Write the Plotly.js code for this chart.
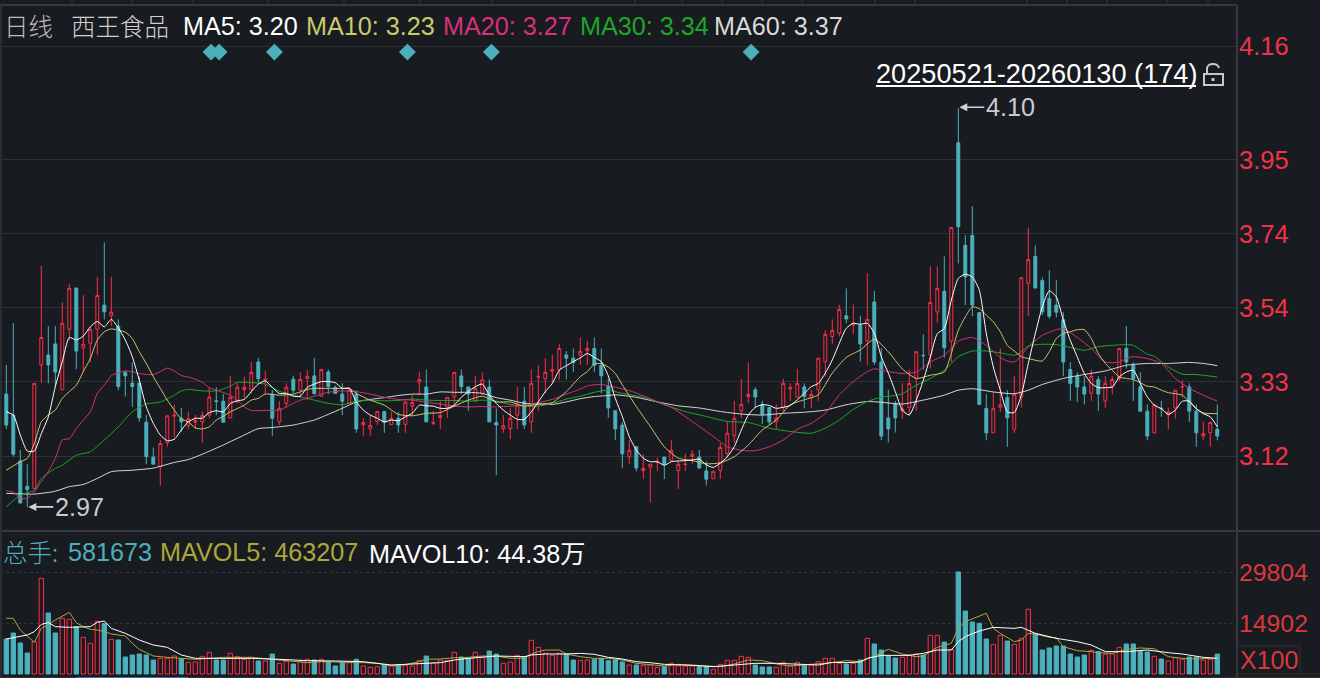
<!DOCTYPE html>
<html>
<head>
<meta charset="utf-8">
<script src="https://cdn.plot.ly/plotly-3.0.1.min.js"></script>
<style>html,body{margin:0;padding:0;background:#181b20;overflow:hidden}#c{width:1320px;height:678px}</style>
</head>
<body>
<div id="c"></div>
<script>
// ---- candles
const opens=[3.294,3.235,3.106,3.035,3.029,3.376,3.404,3.435,3.306,3.476,3.592,3.424,3.437,3.476,3.544,3.514,3.485,3.355,3.325,3.325,3.215,3.117,3.09,3.158,3.232,3.226,3.206,3.215,3.216,3.235,3.275,3.274,3.227,3.274,3.307,3.307,3.384,3.333,3.294,3.216,3.268,3.336,3.305,3.338,
3.345,3.288,3.356,3.313,3.294,3.268,3.294,3.208,3.197,3.217,3.245,3.208,3.226,3.209,3.26,3.327,3.314,3.212,3.228,3.257,3.286,3.345,3.314,3.274,3.294,3.314,3.214,3.197,3.197,3.235,3.274,3.216,3.342,3.337,3.358,3.363,3.404,3.395,3.404,3.416,3.422,3.375,
3.315,3.247,3.207,3.118,3.146,3.079,3.088,3.101,3.117,3.108,3.079,3.096,3.118,3.117,3.078,3.056,3.079,3.127,3.177,3.247,3.287,3.306,3.265,3.256,3.216,3.256,3.308,3.285,3.314,3.285,3.306,3.385,3.456,3.465,3.514,3.488,3.487,3.444,3.553,3.384,3.227,3.268,
3.247,3.256,3.338,3.403,3.404,3.525,3.583,3.443,4.0,3.712,3.74,3.523,3.254,3.185,3.257,3.284,3.195,3.286,3.605,3.681,3.613,3.562,3.544,3.503,3.363,3.344,3.314,3.296,3.335,3.275,3.314,3.338,3.422,3.375,3.314,3.246,3.185,3.254,3.236,3.255,3.314,3.314,3.246,3.176,3.185,3.195];
const closes=[3.207,3.125,2.988,3.026,3.324,3.453,3.376,3.356,3.493,3.591,3.415,3.434,3.475,3.571,3.525,3.524,3.315,3.345,3.315,3.227,3.118,3.097,3.155,3.233,3.235,3.216,3.225,3.22,3.234,3.285,3.273,3.215,3.285,3.313,3.313,3.355,3.337,3.336,3.226,3.254,3.313,3.305,3.335,3.344,
3.295,3.363,3.315,3.296,3.274,3.305,3.196,3.214,3.206,3.245,3.214,3.225,3.207,3.272,3.27,3.335,3.216,3.214,3.234,3.285,3.355,3.315,3.294,3.31,3.334,3.216,3.207,3.205,3.226,3.263,3.207,3.324,3.343,3.355,3.363,3.422,3.395,3.383,3.414,3.422,3.375,3.345,
3.255,3.196,3.126,3.136,3.086,3.085,3.097,3.104,3.097,3.136,3.097,3.097,3.125,3.086,3.055,3.077,3.144,3.184,3.226,3.265,3.293,3.286,3.237,3.216,3.226,3.324,3.313,3.324,3.287,3.293,3.395,3.462,3.473,3.532,3.505,3.493,3.435,3.504,3.384,3.176,3.196,3.227,
3.253,3.324,3.413,3.402,3.551,3.591,3.424,3.762,3.764,3.623,3.544,3.265,3.185,3.253,3.264,3.227,3.294,3.621,3.672,3.592,3.525,3.513,3.524,3.384,3.324,3.314,3.294,3.344,3.294,3.324,3.335,3.422,3.384,3.338,3.246,3.176,3.264,3.253,3.244,3.305,3.315,3.246,3.185,3.183,3.214,3.176];
const highs=[3.376,3.493,3.137,3.097,3.324,3.654,3.485,3.485,3.552,3.603,3.592,3.572,3.483,3.624,3.72,3.624,3.504,3.36,3.383,3.343,3.235,3.144,3.165,3.233,3.264,3.255,3.245,3.235,3.245,3.312,3.313,3.294,3.345,3.324,3.343,3.385,3.396,3.36,3.305,3.274,3.324,3.346,3.355,3.361,
3.396,3.365,3.363,3.318,3.324,3.315,3.305,3.226,3.235,3.245,3.245,3.245,3.244,3.274,3.291,3.357,3.363,3.246,3.274,3.285,3.355,3.363,3.314,3.345,3.355,3.335,3.254,3.235,3.254,3.314,3.314,3.363,3.375,3.395,3.404,3.435,3.415,3.422,3.453,3.444,3.453,3.422,
3.336,3.247,3.216,3.165,3.146,3.125,3.097,3.115,3.117,3.165,3.107,3.127,3.137,3.137,3.105,3.077,3.156,3.216,3.275,3.337,3.383,3.313,3.275,3.256,3.265,3.337,3.324,3.365,3.324,3.306,3.395,3.474,3.504,3.545,3.591,3.545,3.514,3.634,3.584,3.423,3.306,3.275,
3.324,3.363,3.413,3.462,3.653,3.653,3.681,3.762,4.097,3.74,3.822,3.523,3.294,3.3,3.422,3.305,3.344,3.621,3.762,3.712,3.622,3.642,3.614,3.524,3.384,3.355,3.344,3.363,3.344,3.344,3.344,3.422,3.485,3.384,3.356,3.265,3.264,3.275,3.256,3.305,3.333,3.324,3.265,3.216,3.214,3.265];
const lows=[3.196,3.118,2.987,2.977,3.029,3.326,3.324,3.313,3.306,3.446,3.364,3.357,3.383,3.404,3.504,3.485,3.305,3.287,3.258,3.216,3.097,3.097,3.036,3.146,3.174,3.188,3.196,3.196,3.157,3.226,3.235,3.215,3.227,3.268,3.284,3.296,3.324,3.294,3.176,3.207,3.256,3.296,3.286,3.277,
3.294,3.287,3.294,3.294,3.235,3.266,3.185,3.177,3.177,3.207,3.185,3.208,3.185,3.185,3.235,3.291,3.216,3.207,3.196,3.227,3.26,3.294,3.247,3.274,3.294,3.216,3.066,3.185,3.167,3.196,3.196,3.185,3.246,3.296,3.324,3.335,3.335,3.357,3.376,3.376,3.355,3.296,
3.227,3.165,3.086,3.098,3.077,3.055,2.989,3.078,3.055,3.108,3.027,3.078,3.098,3.086,3.037,3.056,3.055,3.116,3.156,3.227,3.268,3.254,3.21,3.207,3.196,3.247,3.275,3.285,3.254,3.254,3.275,3.343,3.435,3.456,3.493,3.463,3.385,3.376,3.376,3.165,3.158,3.186,
3.225,3.235,3.247,3.363,3.366,3.494,3.396,3.384,3.661,3.544,3.513,3.265,3.164,3.185,3.244,3.146,3.185,3.256,3.513,3.592,3.516,3.506,3.51,3.344,3.275,3.272,3.265,3.275,3.247,3.256,3.294,3.331,3.366,3.275,3.246,3.164,3.185,3.23,3.195,3.225,3.284,3.216,3.146,3.164,3.146,3.164];
// ---- moving averages, [candle index, price]
const ma5=[3.244,3.235,3.179,3.134,3.134,3.183,3.23,3.315,3.385,3.453,3.446,3.457,3.483,3.498,3.483,3.504,3.48,3.446,3.399,3.333,3.258,3.212,3.179,3.163,3.167,3.193,3.216,3.226,3.226,3.242,3.247,3.244,3.268,3.275,3.279,3.301,3.322,3.331,3.313,3.296,3.296,3.288,3.288,3.313,
3.322,3.329,3.329,3.326,3.31,3.31,3.272,3.249,3.235,3.226,3.216,3.221,3.219,3.23,3.24,3.263,3.261,3.26,3.254,3.254,3.263,3.285,3.301,3.315,3.322,3.291,3.268,3.249,3.235,3.223,3.223,3.244,3.272,3.301,3.324,3.361,3.374,3.385,3.396,3.408,3.397,3.385,
3.345,3.282,3.231,3.174,3.137,3.114,3.104,3.104,3.094,3.104,3.106,3.107,3.109,3.111,3.095,3.088,3.1,3.118,3.146,3.193,3.235,3.257,3.264,3.262,3.254,3.257,3.262,3.278,3.296,3.315,3.324,3.353,3.39,3.437,3.479,3.493,3.49,3.493,3.465,3.399,3.353,3.301,
3.249,3.235,3.277,3.333,3.398,3.464,3.478,3.558,3.619,3.631,3.623,3.586,3.464,3.37,3.305,3.244,3.242,3.291,3.38,3.464,3.539,3.584,3.567,3.502,3.445,3.398,3.352,3.324,3.312,3.312,3.314,3.342,3.356,3.361,3.324,3.286,3.263,3.253,3.237,3.249,3.274,3.274,3.253,3.239,3.23,3.202];
const ma10=[[0,3.08],[2,3.104],[3,3.113],[4,3.155],[5,3.216],[6,3.235],[7,3.249],[8,3.282],[9,3.301],[10,3.319],[11,3.357],[12,3.394],[13,3.446],[14,3.469],[15,3.477],[17,3.468],[18,3.45],[19,3.413],[20,3.38],[21,3.343],[22,3.31],[23,3.277],[24,3.249],[25,3.224],[26,3.216],[27,3.199],[28,3.196],[29,3.202],[30,3.221],[31,3.232],[32,3.244],[34,3.263],[35,3.277],[36,3.282],[37,3.294],[39,3.291],[41,3.294],[43,3.307],[44,3.31],[46,3.31],[48,3.31],[49,3.31],[50,3.296],[52,3.277],[54,3.263],[56,3.237],[58,3.233],[60,3.24],[62,3.242],[64,3.26],[66,3.277],[68,3.288],[70,3.272],[72,3.272],[74,3.26],[76,3.266],[78,3.27],[80,3.301],[82,3.343],[83,3.357],[84,3.378],[85,3.38],[86,3.37],[87,3.352],[88,3.32],[90,3.259],[92,3.203],[94,3.146],[96,3.114],[98,3.107],[100,3.098],[102,3.101],[104,3.118],[106,3.151],[108,3.193],[110,3.221],[112,3.264],[114,3.278],[116,3.292],[118,3.353],[120,3.397],[122,3.418],[124,3.448],[126,3.413],[128,3.365],[130,3.338],[132,3.347],[134,3.356],[135,3.408],[136,3.473],[137,3.511],[138,3.539],[139,3.534],[140,3.516],[141,3.497],[142,3.469],[143,3.431],[144,3.415],[145,3.399],[146,3.394],[148,3.387],[149,3.413],[150,3.45],[151,3.464],[152,3.469],[153,3.475],[154,3.475],[155,3.45],[156,3.408],[157,3.38],[158,3.361],[159,3.342],[160,3.338],[161,3.335],[162,3.326],[163,3.316],[164,3.314],[165,3.305],[166,3.298],[167,3.295],[168,3.291],[169,3.272],[170,3.253],[171,3.241],[173,3.239]];
const ma20=[[0,3.022],[1,3.018],[2,3.001],[3,3.001],[4,3.019],[5,3.048],[6,3.076],[7,3.113],[8,3.165],[9,3.169],[10,3.197],[11,3.221],[12,3.244],[13,3.296],[14,3.319],[15,3.346],[16,3.354],[17,3.359],[18,3.357],[19,3.352],[20,3.349],[21,3.349],[22,3.357],[23,3.367],[24,3.359],[25,3.346],[26,3.342],[27,3.336],[28,3.327],[29,3.312],[30,3.305],[32,3.291],[33,3.277],[34,3.258],[35,3.248],[37,3.248],[39,3.249],[40,3.258],[41,3.268],[42,3.277],[43,3.282],[44,3.288],[46,3.299],[48,3.303],[50,3.301],[52,3.294],[54,3.285],[56,3.279],[58,3.277],[60,3.271],[62,3.266],[64,3.26],[66,3.258],[68,3.259],[70,3.258],[72,3.26],[74,3.263],[76,3.27],[78,3.279],[80,3.294],[82,3.308],[83,3.317],[85,3.321],[87,3.313],[89,3.304],[91,3.289],[93,3.273],[95,3.257],[97,3.231],[99,3.203],[101,3.175],[103,3.146],[105,3.136],[107,3.135],[109,3.146],[111,3.165],[113,3.195],[115,3.212],[117,3.24],[119,3.292],[121,3.329],[123,3.357],[124,3.365],[126,3.357],[128,3.352],[130,3.356],[132,3.384],[133,3.394],[134,3.403],[135,3.422],[136,3.443],[138,3.453],[140,3.431],[142,3.397],[143,3.387],[144,3.384],[145,3.403],[146,3.427],[148,3.459],[150,3.475],[151,3.478],[153,3.453],[155,3.422],[157,3.384],[159,3.384],[160,3.394],[161,3.399],[163,3.394],[165,3.38],[167,3.338],[169,3.31],[171,3.291],[173,3.274]];
const ma30=[[0,2.977],[2,3.01],[4,3.024],[5,3.057],[7,3.085],[8,3.094],[10,3.122],[12,3.132],[14,3.165],[16,3.202],[18,3.244],[20,3.266],[22,3.272],[24,3.291],[25,3.303],[26,3.307],[28,3.303],[30,3.303],[32,3.316],[33,3.327],[35,3.326],[37,3.322],[39,3.302],[41,3.291],[43,3.282],[44,3.277],[46,3.268],[48,3.264],[50,3.274],[52,3.277],[54,3.275],[56,3.276],[58,3.28],[60,3.277],[62,3.276],[64,3.276],[66,3.274],[68,3.277],[70,3.274],[72,3.265],[74,3.26],[76,3.26],[78,3.268],[80,3.28],[82,3.288],[84,3.299],[86,3.305],[88,3.296],[91,3.285],[94,3.264],[97,3.245],[100,3.231],[103,3.217],[106,3.214],[109,3.198],[112,3.189],[115,3.184],[117,3.198],[119,3.221],[121,3.251],[123,3.273],[125,3.285],[127,3.29],[128,3.295],[130,3.319],[132,3.338],[134,3.361],[135,3.38],[136,3.399],[138,3.415],[140,3.415],[142,3.41],[144,3.403],[145,3.413],[146,3.429],[148,3.434],[150,3.433],[152,3.425],[154,3.417],[156,3.427],[158,3.431],[160,3.433],[161,3.431],[163,3.406],[164,3.4],[166,3.37],[168,3.35],[170,3.349],[173,3.342]];
const ma60=[[0,3.015],[4,3.013],[7,3.021],[9,3.034],[11,3.04],[13,3.057],[15,3.076],[18,3.08],[21,3.086],[24,3.102],[26,3.11],[28,3.125],[31,3.151],[34,3.179],[36,3.197],[38,3.2],[41,3.207],[43,3.216],[44,3.221],[46,3.237],[48,3.254],[50,3.272],[52,3.279],[54,3.284],[56,3.29],[58,3.294],[60,3.294],[62,3.3],[64,3.299],[66,3.299],[68,3.296],[70,3.284],[72,3.277],[74,3.268],[76,3.266],[78,3.265],[80,3.272],[82,3.281],[84,3.287],[86,3.29],[87,3.292],[90,3.285],[93,3.272],[96,3.261],[99,3.255],[102,3.245],[105,3.238],[108,3.235],[111,3.24],[114,3.243],[117,3.249],[120,3.264],[123,3.273],[125,3.271],[128,3.266],[131,3.277],[134,3.291],[136,3.305],[138,3.309],[141,3.3],[144,3.295],[146,3.305],[148,3.321],[151,3.338],[154,3.349],[157,3.359],[160,3.375],[163,3.38],[166,3.38],[169,3.383],[171,3.38],[173,3.374]];
// ---- volume (X100)
const volumes=[10230,11980,9060,6140,9450,27950,17820,11980,16270,15970,13830,10710,8960,15390,14710,10130,9930,4970,5550,5840,5550,4090,4580,4580,5260,4480,3410,3510,5160,6330,4090,4090,6040,5060,4290,4870,3800,3800,5840,3120,3700,2920,3700,4290,4090,4290,3510,2340,3310,3310,4290,2340,1950,2140,2730,2530,2730,2530,2340,3990,5260,3310,4090,3900,6330,4970,4580,6330,4870,6720,5840,3120,3510,5450,5060,9840,7790,6040,5450,6040,5840,4090,3990,4090,4290,4580,3900,4090,3510,2630,2630,2530,2630,1950,2140,3120,2430,2340,2340,2140,2140,1360,2820,3990,3990,5160,4870,2630,2050,2050,1950,3410,2340,3410,2630,2630,3600,4580,4580,3120,2920,3120,4090,10420,8770,7010,5260,4680,4870,5550,5840,5550,11300,11300,9350,7210,29800,18410,15190,14800,10230,8670,11300,9640,8670,10420,18900,11790,7010,7600,8180,8180,5840,4970,5550,6920,6530,5750,5840,7790,8770,8770,6530,6430,5160,4380,3800,4770,4290,4970,4970,4090,4290,5817];
const mavol5=[[0,16270],[1,16270],[2,12860],[3,10910],[4,9250],[5,13340],[6,14320],[7,15780],[8,16950],[9,18020],[10,15000],[11,13830],[12,13050],[13,12860],[14,12370],[15,11690],[16,11400],[17,11100],[18,8960],[19,7210],[20,6230],[21,5260],[23,4870],[25,4580],[27,4290],[29,4580],[31,4870],[33,4870],[35,4870],[37,4480],[39,4090],[41,3600],[43,3310],[45,3600],[47,3410],[49,3410],[51,3310],[53,3120],[55,2340],[57,2730],[59,3600],[60,4290],[62,4380],[64,4770],[66,4870],[68,5260],[70,5260],[72,4580],[74,4580],[75,5840],[76,6530],[77,7010],[79,7010],[80,5840],[82,5060],[84,4580],[86,4580],[88,4090],[90,3120],[92,2820],[94,2340],[96,2820],[98,2530],[100,2340],[102,2140],[104,2920],[106,4090],[108,3900],[110,2920],[112,2340],[114,2630],[116,2820],[118,3310],[120,3900],[122,3600],[124,5260],[126,7210],[128,5840],[130,5060],[131,5260],[133,7790],[135,8960],[136,13340],[137,15290],[139,16950],[140,17730],[141,13340],[142,11880],[144,9450],[145,9930],[146,11880],[147,11690],[149,10710],[150,10620],[151,7990],[153,6820],[155,6530],[156,6230],[158,6040],[160,7210],[162,7600],[164,7400],[165,6230],[166,5060],[168,4580],[170,4380],[172,4580],[173,4632]];
const mavol10=[[0,10230],[2,11100],[3,11400],[4,12370],[5,14510],[6,15000],[7,13830],[9,13640],[12,13830],[13,15100],[14,15490],[15,13340],[17,11880],[19,9930],[21,8470],[23,7790],[25,5550],[27,4580],[31,4580],[35,4580],[39,4290],[43,3900],[47,3800],[51,3600],[55,2630],[59,2920],[60,3120],[62,3310],[64,4090],[66,4580],[70,5260],[74,5060],[75,5550],[77,5840],[80,5840],[82,6040],[84,5750],[86,4870],[88,4380],[90,3600],[92,3310],[94,2820],[98,2530],[101,2140],[104,2630],[107,3120],[110,3120],[113,2920],[116,2630],[118,3410],[120,3310],[122,3510],[123,4580],[125,5450],[129,5450],[131,6040],[133,7010],[135,7010],[136,9450],[137,10910],[139,12560],[141,13640],[144,13340],[145,13640],[147,11880],[150,10420],[153,9450],[155,8470],[157,6530],[160,6530],[163,7010],[166,6230],[168,5840],[171,4870],[173,4580]];
// ---- markers and axis labels
const signalIdx=[29.25,30.4,38.3,57.3,69.3,106.4];
const priceTicks=[4.272,3.952,3.744,3.536,3.328,3.12];
const priceLabels=['4.16','3.95','3.74','3.54','3.33','3.12'];
const volTicks=[29804,14902];
const volLabels=['29804','14902'];
const tabMarks=[72,132,193,268,344,420,492,635,682,722,762,802,875,915,1027,1067,1107,1167,1208];

const BG='#181b20',RED='#ff2d48',TEAL='#4bb0bc',AXRED='#f0324a',VOLRED='#d8383e',LINE='#36393d';
const idx=opens.map((_,i)=>i);
const W=1320,H=678,PLOT_R=1237;
const px=x=>x/PLOT_R, py=y=>1-y/H;
const pick=(a,k)=>a.map(p=>p[k]);
const lineTrace=(xs,ys,color,w,ya,shape)=>({type:'scatter',mode:'lines',x:xs,y:ys,yaxis:ya,hoverinfo:'skip',
  line:{color:color,width:w,shape:shape,smoothing:0.6}});

const traces=[
 {type:'bar',x:idx,y:volumes,yaxis:'y2',width:0.62,hoverinfo:'skip',
  marker:{color:idx.map(i=>closes[i]>opens[i]?BG:TEAL),
          line:{color:idx.map(i=>closes[i]>opens[i]?RED:TEAL),width:1}}},
 lineTrace(pick(mavol5,0),pick(mavol5,1),'#a9a93c',1,'y2','linear'),
 lineTrace(pick(mavol10,0),pick(mavol10,1),'#ffffff',1,'y2','linear'),
 {type:'candlestick',x:idx,open:opens,high:highs,low:lows,close:closes,yaxis:'y',whiskerwidth:0,hoverinfo:'skip',
  increasing:{line:{color:RED,width:1},fillcolor:BG},
  decreasing:{line:{color:TEAL,width:1},fillcolor:TEAL}},
 lineTrace(pick(ma60,0),pick(ma60,1),'#d9d9d9',1,'y','spline'),
 lineTrace(pick(ma30,0),pick(ma30,1),'#1fa52a',1,'y','spline'),
 lineTrace(pick(ma20,0),pick(ma20,1),'#d9307a',1,'y','spline'),
 lineTrace(pick(ma10,0),pick(ma10,1),'#c9c96e',1,'y','spline'),
 lineTrace(idx,ma5,'#ffffff',1,'y','spline'),
 {type:'scatter',mode:'markers',x:signalIdx,y:signalIdx.map(()=>4.255),yaxis:'y',hoverinfo:'skip',
  marker:{symbol:'diamond',size:13,color:TEAL,line:{width:0}}}
];

const txt=(x,y,t,color,size)=>({xref:'paper',yref:'paper',x:px(x),y:py(y),text:t,showarrow:false,
  xanchor:'left',yanchor:'middle',xshift:0,font:{family:'"Liberation Sans",Arial,sans-serif',size:size||25.2,color:color}});
const cjk=(x,y,t,color)=>({xref:'paper',yref:'paper',x:px(x),y:py(y),text:t,showarrow:false,xanchor:'left',yanchor:'middle',
  font:{family:'"Noto Sans CJK SC",sans-serif',size:24.5,color:color,weight:300}});

const annotations=[
 cjk(2,25,'日线','#bdbdbd'),cjk(69,25,'西王食品','#d0d0d0'),
 txt(181,26,'MA5: 3.20','#ffffff'),
 txt(304,26,'MA10: 3.23','#c9c96e'),
 txt(441,26,'MA20: 3.27','#d9307a'),
 txt(578,26,'MA30: 3.34','#1fa52a'),
 txt(712,26,'MA60: 3.37','#d9d9d9'),
 txt(874,73,'20250521-20260130 (174)','#ffffff',27.15),
 cjk(1,551,'总手:','#4bb0bc'),
 txt(66,552,'581673','#4bb0bc'),
 txt(158,552,'MAVOL5: 463207','#a9a93c'),
 txt(367,552,'MAVOL10: 44.38<span style="font-family:Noto Sans CJK SC">万</span>','#ffffff'),
 txt(1238,660,'X100',VOLRED,25),
 {x:136,y:4.10,xref:'x',yref:'y',text:'4.10',showarrow:true,ax:26,ay:0,xanchor:'left',yanchor:'middle',
  arrowcolor:'#cfd2d6',arrowhead:2,arrowsize:1,arrowwidth:1.6,standoff:1,
  font:{family:'"Liberation Sans",Arial,sans-serif',size:25.2,color:'#c8ccd0'}},
 {x:3,y:2.977,xref:'x',yref:'y',text:'2.97',showarrow:true,ax:26,ay:0,xanchor:'left',yanchor:'middle',
  arrowcolor:'#cfd2d6',arrowhead:2,arrowsize:1,arrowwidth:1.6,standoff:1,
  font:{family:'"Liberation Sans",Arial,sans-serif',size:25.2,color:'#c8ccd0'}}
];

const seg=(x0,y0,x1,y1,color,w)=>({type:'line',xref:'paper',yref:'paper',x0:px(x0),y0:py(y0),x1:px(x1),y1:py(y1),line:{color:color,width:w},layer:'above'});
const P=(x,y)=>px(x)+' '+py(y);
const shapes=[
 seg(0,5,PLOT_R,5,LINE,2),
 seg(PLOT_R,5,PLOT_R,678,LINE,2),
 seg(0,531,W,531,LINE,2),
 seg(1,5,1,678,'#2a2d32',2),
 seg(0,677.5,W,677.5,'#2f3236',1),
 seg(76,677.5,188,677.5,'#3a6ea8',1),
 ...tabMarks.map(x=>seg(x,0,x,4,LINE,1)),
 seg(876,86,1196,86,'#ffffff',2),
 // lock icon
 {type:'path',xref:'paper',yref:'paper',layer:'above',line:{color:'#c8c8c8',width:2},
  path:'M '+P(1204,74)+' L '+P(1223,74)+' L '+P(1223,85)+' L '+P(1204,85)+' Z'},
 {type:'path',xref:'paper',yref:'paper',layer:'above',line:{color:'#c8c8c8',width:2},
  path:'M '+P(1207,74)+' L '+P(1207,68)+' Q '+P(1208,64)+' '+P(1213,64)+' Q '+P(1218,64)+' '+P(1219,68)},
 seg(1213,78,1213,81,'#c8c8c8',3),
 // X100 box
 {type:'rect',xref:'paper',yref:'paper',x0:px(PLOT_R),x1:px(1300),y0:py(646),y1:py(674),line:{color:'#2f3236',width:1},layer:'above'},
 seg(1300,674,W,674,'#2f3236',1)
];

const layout={
 width:W,height:H,paper_bgcolor:BG,plot_bgcolor:BG,showlegend:false,
 margin:{l:0,r:W-PLOT_R,t:0,b:0,pad:0},
 boxgap:0.4,bargap:0,barmode:'overlay',
 xaxis:{type:'linear',range:[-0.9,(PLOT_R-6.3)/7],visible:false,showgrid:false,zeroline:false,
        rangeslider:{visible:false},fixedrange:true,anchor:'y'},
 yaxis:{domain:[(H-530)/H,(H-5)/H],range:[3.12-74*0.00281,3.12+451*0.00281],side:'right',
        tickmode:'array',tickvals:priceTicks,ticktext:priceLabels,ticklabelstandoff:1,
        tickfont:{family:'"Liberation Sans",Arial,sans-serif',size:25.5,color:AXRED},
        ticks:'',showline:false,zeroline:false,gridcolor:'#2e3033',gridwidth:1,fixedrange:true,anchor:'x'},
 yaxis2:{domain:[0,(H-532)/H],range:[-4*292.2,142*292.2],side:'right',
        tickmode:'array',tickvals:volTicks,ticktext:volLabels,ticklabelstandoff:1,
        tickfont:{family:'"Liberation Sans",Arial,sans-serif',size:24.8,color:VOLRED},
        ticks:'',showline:false,zeroline:false,gridcolor:'#33363a',griddash:'dot',gridwidth:1,fixedrange:true,anchor:'x'},
 annotations:annotations,shapes:shapes
};
Plotly.newPlot('c',traces,layout,{displayModeBar:false,staticPlot:true});
</script>
</body>
</html>
